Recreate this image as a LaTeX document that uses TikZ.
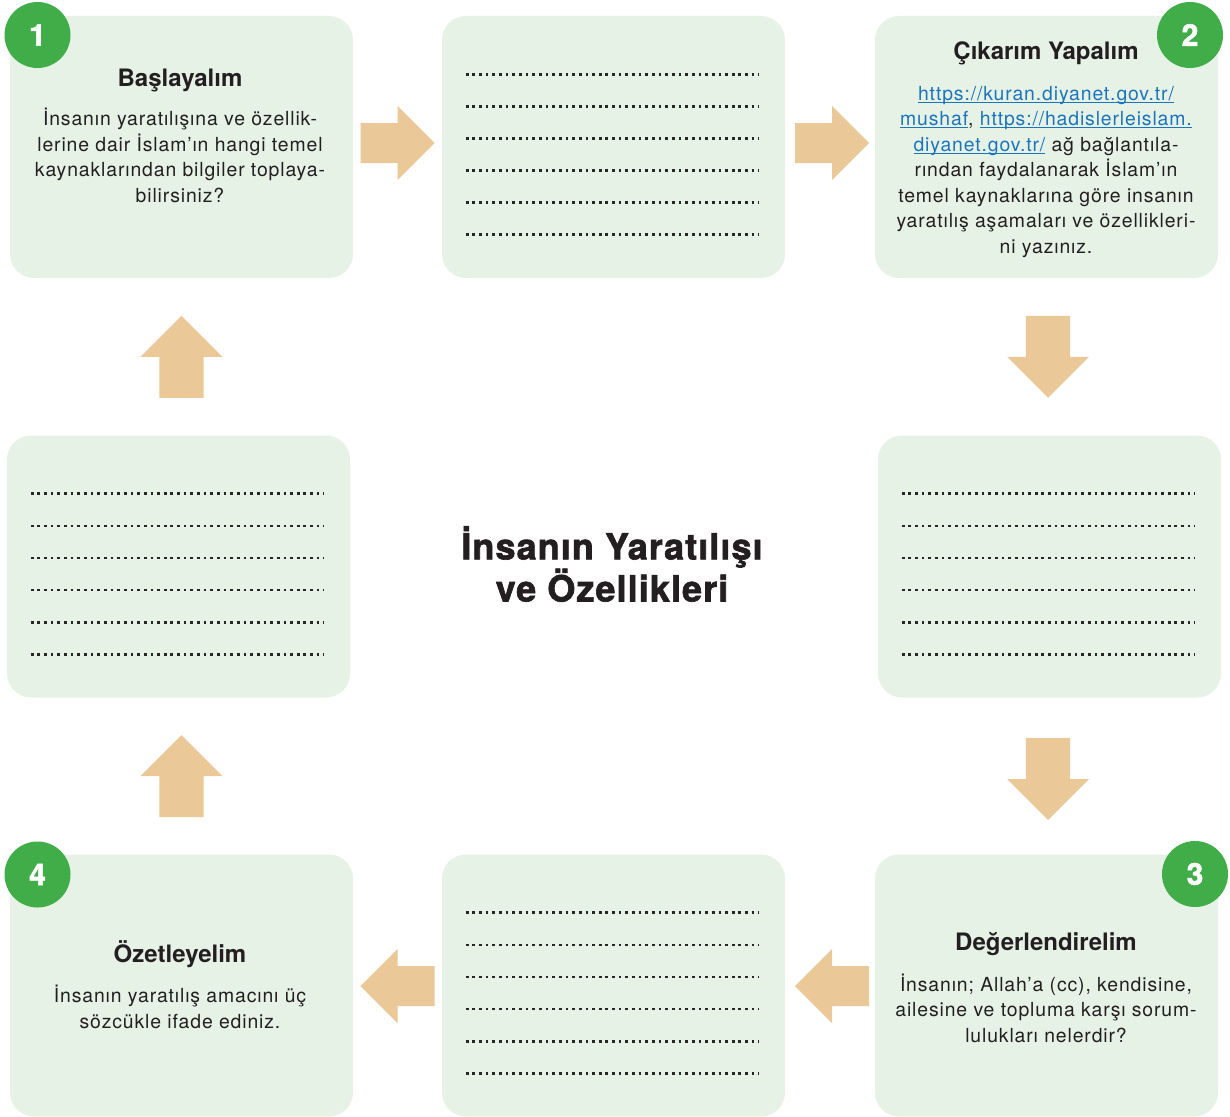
\documentclass[tikz,border=0pt]{standalone}
\usepackage{fontspec}
\setmainfont{TeX Gyre Heros}
\newfontfamily\bodyfont[LetterSpace=4.5]{TeX Gyre Heros}
\newfontfamily\heavyfont[BoldFeatures={FakeBold=1.8}, LetterSpace=3]{TeX Gyre Heros}
\newfontfamily\digitfont[BoldFeatures={FakeBold=1.8}]{TeX Gyre Heros}
\usetikzlibrary{calc}
\definecolor{boxfill}{HTML}{E7F2E7}
\definecolor{stepgreen}{HTML}{41AD49}
\definecolor{arrowc}{HTML}{EBC898}
\definecolor{txt}{HTML}{231F20}
\definecolor{linkblue}{HTML}{1B75BC}
\definecolor{dotc}{HTML}{262626}
\newlength\ulwd
\newcommand\lnk[1]{\settowidth\ulwd{#1}\textcolor{linkblue}{\rlap{\rule[-2.2pt]{\ulwd}{1.1pt}}#1}}
\tikzset{
  card/.style={fill=boxfill, rounded corners=24pt, minimum width=343pt, minimum height=262pt, inner sep=0pt},
  numdisc/.style={circle, fill=stepgreen, minimum size=66pt, inner sep=0pt, text=white, font=\fontsize{30}{31}\selectfont\digitfont\bfseries},
  cardtitle/.style={text=txt, font=\fontsize{24}{28}\selectfont\bfseries, inner sep=0pt},
  cardbody/.style={text=txt, align=center, inner sep=0pt, font=\fontsize{19.4}{25.5}\selectfont\bodyfont},
  blockarr/.pic={\fill[arrowc] (-37,-20) -- (0,-20) -- (0,-37) -- (37,0) -- (0,37) -- (0,20) -- (-37,20) -- cycle;},
  dotline/.style={draw=dotc, line width=2.7pt, dash pattern=on 2.7pt off 3.95pt}
}
\begin{document}
\begin{tikzpicture}[x=1pt,y=-1pt]
\path[use as bounding box, fill=white] (0,0) rectangle (1230,1116);
% cards
\node[card] (b1)  at (181.5,147) {};
\node[card] (bm1) at (613.5,147) {};
\node[card] (b2)  at (1046.5,147) {};
\node[card] (ml)  at (178.5,566.5) {};
\node[card] (mr)  at (1049.5,566.5) {};
\node[card] (b4)  at (181.5,985.5) {};
\node[card] (bm2) at (613.5,985.5) {};
\node[card] (b3)  at (1046.5,985.5) {};
% dotted answer lines
\foreach \bx in {bm1,ml,mr,bm2}{
  \foreach \i in {0,...,5}{
    \draw[dotline] ($(\bx.north west)+(24,58.5+32.1*\i)$) -- ($(\bx.north east)+(-26,58.5+32.1*\i)$);
  }
}
% block arrows (step to step)
\pic (a1) at ($(b1.east)!.5!(bm1.west)+(0,-4)$) {blockarr};
\pic (a2) at ($(bm1.east)!.5!(b2.west)+(2,-4)$) {blockarr};
\pic[rotate=-90, scale=1.108] (a3) at ($(b2.south)!.5!(mr.north)$) {blockarr};
\pic[rotate=-90, scale=1.108] (a4) at ($(mr.south)!.5!(b3.north)+(0,3)$) {blockarr};
\pic[rotate=180] (a5) at ($(b3.west)!.5!(bm2.east)+(2,0.5)$) {blockarr};
\pic[rotate=180] (a6) at ($(bm2.west)!.5!(b4.east)+(0,0.5)$) {blockarr};
\pic[rotate=90, scale=1.108] (a7) at ($(b4.north)!.5!(ml.south)+(1.5,0)$) {blockarr};
\pic[rotate=90, scale=1.108] (a8) at ($(ml.north)!.5!(b1.south)+(1.5,0)$) {blockarr};
% number discs
\node[numdisc] (c1) at (37.5,35) {1};
\node[numdisc] (c2) at (1190,35) {2};
\node[numdisc] (c3) at (1195,874) {3};
\node[numdisc] (c4) at (37.5,874.5) {4};
% texts
\node[cardtitle] (t1) at (180,80) {Başlayalım};
\node[cardbody] (p1) at (180,155.5) {İnsanın yaratılışına ve özellik-\\lerine dair İslam’ın hangi temel\\kaynaklarından bilgiler toplaya-\\bilirsiniz?};
\node[cardtitle] (t2) at (1046,53) {Çıkarım Yapalım};
\node[cardbody] (p2) at (1046,172) {\lnk{https://kuran.diyanet.gov.tr/}\\\lnk{mushaf}, \lnk{https://hadislerleislam.}\\\lnk{diyanet.gov.tr/} ağ bağlantıla-\\rından faydalanarak İslam’ın\\temel kaynaklarına göre insanın\\yaratılış aşamaları ve özellikleri-\\ni yazınız.};
\node[cardtitle] (t3) at (1046,944) {Değerlendirelim};
\node[cardbody] (p3) at (1046,1008) {İnsanın; Allah’a (cc), kendisine,\\ailesine ve topluma karşı sorum-\\lulukları nelerdir?};
\node[cardtitle] (t4) at (180,954) {Özetleyelim};
\node[cardbody] (p4) at (180,1007) {İnsanın yaratılış amacını üç\\sözcükle ifade ediniz.};
\node[text=txt, align=center, inner sep=0pt, font=\fontsize{36}{40}\selectfont\heavyfont\bfseries] (title) at (612,564) {İnsanın Yaratılışı\\ve Özellikleri};
\end{tikzpicture}
\end{document}
